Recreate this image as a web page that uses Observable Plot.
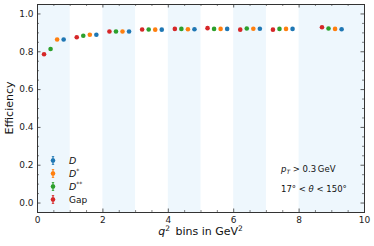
<!DOCTYPE html>
<html><head><meta charset="utf-8">
<script src="https://cdn.jsdelivr.net/npm/d3@7"></script>
<script src="https://cdn.jsdelivr.net/npm/@observablehq/plot@0.6"></script>
<style>body{margin:0;background:#fff} svg{display:block}</style>
</head><body><div id="chart"></div>
<script>
// ---- data ----
const binEdges = [0, 1, 2, 3, 4, 5, 6, 7, 8, 10];
const shadedBins = [0, 2, 4, 6, 8];
const seriesNames = ["Gap", "D**", "D*", "D"];
const seriesOffsets = [-0.3, -0.1, 0.1, 0.3];
const seriesColors = ["#d62728", "#2ca02c", "#ff7f0e", "#1f77b4"];
const effGap = [0.787, 0.877, 0.907, 0.918, 0.921, 0.925, 0.917, 0.917, 0.930];
const effDss = [0.815, 0.885, 0.907, 0.918, 0.921, 0.921, 0.923, 0.921, 0.923];
const effDs  = [0.865, 0.890, 0.907, 0.917, 0.919, 0.921, 0.922, 0.921, 0.921];
const effD   = [0.865, 0.890, 0.907, 0.917, 0.919, 0.921, 0.922, 0.921, 0.919];
const xMajor = [0, 2, 4, 6, 8, 10];
const yMajor = [0, 0.2, 0.4, 0.6, 0.8, 1.0];
const xMinor = [0.5, 1, 1.5, 2.5, 3, 3.5, 4.5, 5, 5.5, 6.5, 7, 7.5, 8.5, 9, 9.5];
const yMinor = [0.05, 0.1, 0.15, 0.25, 0.3, 0.35, 0.45, 0.5, 0.55, 0.65, 0.7, 0.75, 0.85, 0.9, 0.95];
const legendNames = ["D", "D*", "D**", "Gap"];
const legendColors = ["#1f77b4", "#ff7f0e", "#2ca02c", "#d62728"];

// ---- layout ----
const W = 374, H = 246, mL = 37, mR = 10, mT = 4, mB = 34;
const pw = W - mL - mR, ph = H - mT - mB;
const effs = [effGap, effDss, effDs, effD];
const points = [];
seriesNames.forEach((s, k) => {
  effs[k].forEach((v, i) => {
    points.push({series: s, x: (binEdges[i] + binEdges[i + 1]) / 2 + seriesOffsets[k], y: v});
  });
});
const shades = shadedBins.map(i => ({x1: binEdges[i], x2: binEdges[i + 1]}));

const frameColor = "#333";
const plot = Plot.plot({
  width: W, height: H,
  marginLeft: mL, marginRight: mR, marginTop: mT, marginBottom: mB,
  style: {fontFamily: "DejaVu Sans", fontSize: "9px", background: "#fff", color: "#222"},
  x: {domain: [0, 10]},
  y: {domain: [-0.05, 1.05]},
  color: {domain: seriesNames, range: seriesColors},
  marks: [
    Plot.rect(shades, {x1: "x1", x2: "x2", fill: "#eef7fd"}),
    Plot.dot(points, {x: "x", y: "y", fill: "series", r: 2.3}),
    // inward ticks on all four sides
    Plot.tickX(xMajor, {x: d => d, insetTop: ph - 3.5, stroke: frameColor, strokeWidth: 0.8}),
    Plot.tickX(xMajor, {x: d => d, insetBottom: ph - 3.5, stroke: frameColor, strokeWidth: 0.8}),
    Plot.tickX(xMinor, {x: d => d, insetTop: ph - 2, stroke: frameColor, strokeWidth: 0.6}),
    Plot.tickX(xMinor, {x: d => d, insetBottom: ph - 2, stroke: frameColor, strokeWidth: 0.6}),
    Plot.tickY(yMajor, {y: d => d, insetRight: pw - 3.5, stroke: frameColor, strokeWidth: 0.8}),
    Plot.tickY(yMajor, {y: d => d, insetLeft: pw - 3.5, stroke: frameColor, strokeWidth: 0.8}),
    Plot.tickY(yMinor, {y: d => d, insetRight: pw - 2, stroke: frameColor, strokeWidth: 0.6}),
    Plot.tickY(yMinor, {y: d => d, insetLeft: pw - 2, stroke: frameColor, strokeWidth: 0.6}),
    Plot.axisX(xMajor, {tickSize: 0, tickPadding: 4, label: null, fontSize: 9}),
    Plot.axisY(yMajor, {tickSize: 0, tickPadding: 4, label: null, fontSize: 9, tickFormat: d3.format(".1f")}),
    Plot.frame({stroke: frameColor, strokeWidth: 1})
  ]
});
document.getElementById("chart").appendChild(plot);

const svg = d3.select(plot);
const fam = "DejaVu Sans";
// axis labels
const xl = svg.append("text").attr("x", mL + pw / 2).attr("y", H - 11)
  .attr("text-anchor", "middle").attr("font-family", fam).attr("font-size", 11).attr("fill", "#111");
xl.append("tspan").attr("font-style", "italic").text("q");
xl.append("tspan").attr("font-size", 7.5).attr("dy", -4).text("2");
xl.append("tspan").attr("dy", 4).text("\u2002bins in GeV");
xl.append("tspan").attr("font-size", 7.5).attr("dy", -4).text("2");

svg.append("text").attr("transform", `translate(13,${mT + ph / 2}) rotate(-90)`)
  .attr("text-anchor", "middle").attr("font-family", fam).attr("font-size", 11).attr("fill", "#111")
  .text("Efficiency");

// legend
const lg = svg.append("g").attr("font-family", fam).attr("font-size", 9).attr("fill", "#111")
  .attr("text-anchor", "start");
legendNames.forEach((n, i) => {
  const cy = 160.5 + i * 13;
  const cx = mL + 16;
  lg.append("line").attr("x1", cx).attr("x2", cx).attr("y1", cy - 4).attr("y2", cy + 4)
    .attr("stroke", legendColors[i]).attr("stroke-width", 1.2);
  lg.append("line").attr("x1", cx - 1.2).attr("x2", cx + 1.2).attr("y1", cy - 4).attr("y2", cy - 4).attr("stroke", legendColors[i]).attr("stroke-width", 0.8);
  lg.append("line").attr("x1", cx - 1.2).attr("x2", cx + 1.2).attr("y1", cy + 4).attr("y2", cy + 4).attr("stroke", legendColors[i]).attr("stroke-width", 0.8);
  lg.append("circle").attr("cx", cx).attr("cy", cy).attr("r", 2.3).attr("fill", legendColors[i]);
  const t = lg.append("text").attr("x", cx + 16).attr("y", cy + 3.3).attr("text-anchor", "start");
  if (n === "Gap") t.text("Gap");
  else {
    t.append("tspan").attr("font-style", "italic").attr("font-size", 9.5).text("D");
    const stars = n.slice(1);
    if (stars) t.append("tspan").attr("font-size", 6).attr("dy", -4).text(stars);
  }
});

// annotations
const an = svg.append("g").attr("font-family", fam).attr("font-size", 8.5).attr("fill", "#111")
  .attr("text-anchor", "start");
const a1 = an.append("text").attr("x", 281).attr("y", 171.5);
a1.append("tspan").attr("font-style", "italic").text("p");
a1.append("tspan").attr("font-style", "italic").attr("font-size", 6).attr("dy", 2).text("T");
a1.append("tspan").attr("dy", -2).text(" > 0.3\u2009GeV");
const a2 = an.append("text").attr("x", 281).attr("y", 191.5);
a2.append("tspan").text("17\u00b0 < ");
a2.append("tspan").attr("font-style", "italic").text("\u03b8");
a2.append("tspan").text(" < 150\u00b0");
</script>
</body></html>
